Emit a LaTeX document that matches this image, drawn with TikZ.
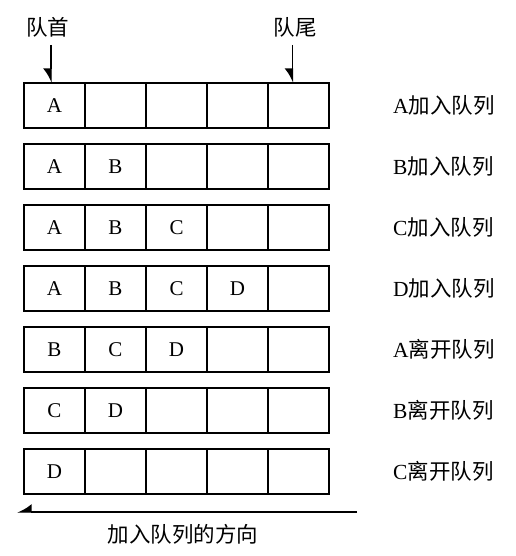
\documentclass[tikz,border=0pt]{standalone}
\usepackage{fontspec}
\setmainfont{Liberation Serif}
\newfontfamily\cjk{Noto Sans CJK SC}
\usetikzlibrary{
    positioning,% wg. " of "
    arrows.meta% half tips
}

\begin{document}
\begin{tikzpicture}[x=1pt,y=-1pt,
    cell/.style={draw,line width=1.2pt,minimum width=61pt,minimum height=45pt,
        inner sep=0pt,outer sep=0pt,font=\fontsize{21}{21}\selectfont},
    rowframe/.style={draw,line width=1.8pt},
    note/.style={inner sep=0pt,font=\fontsize{21.5}{21.5}\selectfont},
    tip/.style={-{Latex[right,length=13pt,width=16pt]},line width=1.3pt}]
    \useasboundingbox (0,0) rectangle (515,556);

    \node[note] (head) at (47.5,27) {\cjk 队首};
    \node[note] (tail) at (295,27) {\cjk 队尾};

    %%% A joins
    \node[cell] (r1c1) at (54.5,105.5) {A};
    \node[cell,right=0pt of r1c1] (r1c2) {};
    \node[cell,right=0pt of r1c2] (r1c3) {};
    \node[cell,right=0pt of r1c3] (r1c4) {};
    \node[cell,right=0pt of r1c4] (r1c5) {};
    \draw[rowframe] (r1c1.north west) rectangle (r1c5.south east);
    \node[note,right=64pt of r1c5] (n1) {A\cjk 加入队列};

    %%% B joins
    \node[cell] (r2c1) at (54.5,166.5) {A};
    \node[cell,right=0pt of r2c1] (r2c2) {B};
    \node[cell,right=0pt of r2c2] (r2c3) {};
    \node[cell,right=0pt of r2c3] (r2c4) {};
    \node[cell,right=0pt of r2c4] (r2c5) {};
    \draw[rowframe] (r2c1.north west) rectangle (r2c5.south east);
    \node[note,right=64pt of r2c5] (n2) {B\cjk 加入队列};

    %%% C joins
    \node[cell] (r3c1) at (54.5,227.5) {A};
    \node[cell,right=0pt of r3c1] (r3c2) {B};
    \node[cell,right=0pt of r3c2] (r3c3) {C};
    \node[cell,right=0pt of r3c3] (r3c4) {};
    \node[cell,right=0pt of r3c4] (r3c5) {};
    \draw[rowframe] (r3c1.north west) rectangle (r3c5.south east);
    \node[note,right=64pt of r3c5] (n3) {C\cjk 加入队列};

    %%% D joins
    \node[cell] (r4c1) at (54.5,288.5) {A};
    \node[cell,right=0pt of r4c1] (r4c2) {B};
    \node[cell,right=0pt of r4c2] (r4c3) {C};
    \node[cell,right=0pt of r4c3] (r4c4) {D};
    \node[cell,right=0pt of r4c4] (r4c5) {};
    \draw[rowframe] (r4c1.north west) rectangle (r4c5.south east);
    \node[note,right=64pt of r4c5] (n4) {D\cjk 加入队列};

    %%% A leaves
    \node[cell] (r5c1) at (54.5,349.5) {B};
    \node[cell,right=0pt of r5c1] (r5c2) {C};
    \node[cell,right=0pt of r5c2] (r5c3) {D};
    \node[cell,right=0pt of r5c3] (r5c4) {};
    \node[cell,right=0pt of r5c4] (r5c5) {};
    \draw[rowframe] (r5c1.north west) rectangle (r5c5.south east);
    \node[note,right=64pt of r5c5] (n5) {A\cjk 离开队列};

    %%% B leaves
    \node[cell] (r6c1) at (54.5,410.5) {C};
    \node[cell,right=0pt of r6c1] (r6c2) {D};
    \node[cell,right=0pt of r6c2] (r6c3) {};
    \node[cell,right=0pt of r6c3] (r6c4) {};
    \node[cell,right=0pt of r6c4] (r6c5) {};
    \draw[rowframe] (r6c1.north west) rectangle (r6c5.south east);
    \node[note,right=64pt of r6c5] (n6) {B\cjk 离开队列};

    %%% C leaves
    \node[cell] (r7c1) at (54.5,471.5) {D};
    \node[cell,right=0pt of r7c1] (r7c2) {};
    \node[cell,right=0pt of r7c2] (r7c3) {};
    \node[cell,right=0pt of r7c3] (r7c4) {};
    \node[cell,right=0pt of r7c4] (r7c5) {};
    \draw[rowframe] (r7c1.north west) rectangle (r7c5.south east);
    \node[note,right=64pt of r7c5] (n7) {C\cjk 离开队列};

    %%% head and tail pointers
    \coordinate (headfrom) at (51,45);
    \coordinate (tailfrom) at (292.5,45);
    \draw[tip] (headfrom) -- (headfrom |- r1c1.north);
    \draw[tip] (tailfrom) -- (tailfrom |- r1c5.north);

    %%% direction of joining
    \coordinate (dirfrom) at (357,512);
    \coordinate (dirto) at (17,512);
    \draw[tip] (dirfrom) -- (dirto);
    \node[note] (dir) at (183,534) {\cjk 加入队列的方向};
\end{tikzpicture}
\end{document}
